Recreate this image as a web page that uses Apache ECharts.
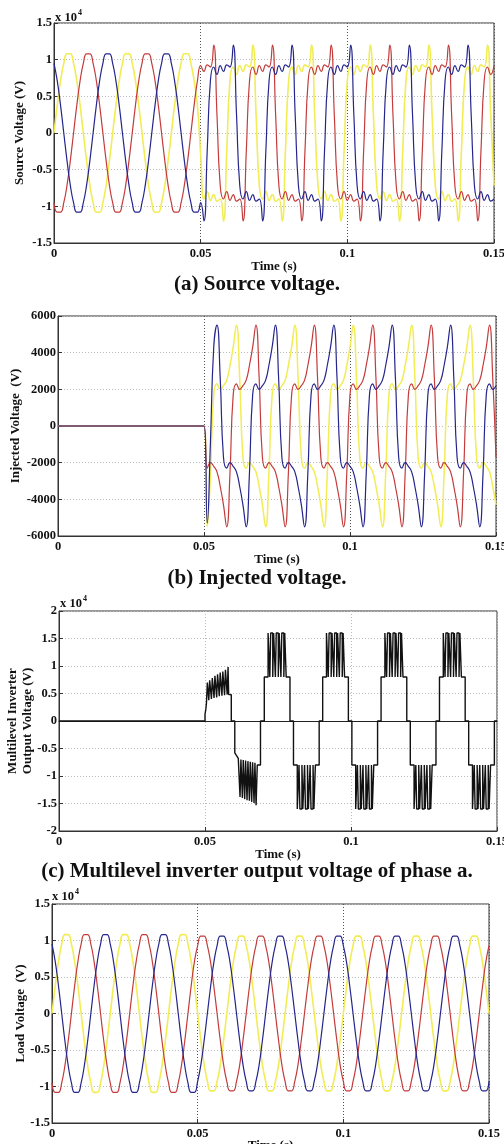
<!DOCTYPE html>
<html>
<head>
<meta charset="utf-8">
<title>DVR voltages</title>
<script src="https://cdn.jsdelivr.net/npm/echarts@6/dist/echarts.min.js"></script>
<style>
  html, body { margin: 0; padding: 0; background: #fff; }
  #main { width: 504px; height: 1144px; }
</style>
</head>
<body>
<div id="main"></div>
<script>
// sample grid: 20 electrical degrees at 50 Hz (1/900 s), 0 .. 0.15 s
var tGrid = [];
for (var i = 0; i <= 135; i++) tGrid.push(i / 900);

// (a) source voltage, x 10^4 V
var srcYellow = [
  0, 0.38, 0.71, 0.95, 1.08, 1.08, 0.95, 0.71, 0.38, 0, -0.38, -0.71, -0.95, -1.08, -1.08, -0.95, -0.71, -0.38,
  0, 0.38, 0.71, 0.95, 1.08, 1.08, 0.95, 0.71, 0.38, 0, -0.38, -0.71, -0.95, -1.08, -1.08, -0.95, -0.71, -0.38,
  0, 0.38, 0.71, 0.95, 1.08, 1.08, 0.95, 0.71, 0.38,
  -0.30, -0.90, -0.80, -0.92, -0.84, -0.93, -0.90, -1.20, -0.25,
  0.72, 0.90, 0.80, 0.92, 0.84, 0.93, 0.90, 1.20, 0.25, -0.72, -0.90, -0.80, -0.92, -0.84, -0.93, -0.90, -1.20, -0.25,
  0.72, 0.90, 0.80, 0.92, 0.84, 0.93, 0.90, 1.20, 0.25, -0.72, -0.90, -0.80, -0.92, -0.84, -0.93, -0.90, -1.20, -0.25,
  0.72, 0.90, 0.80, 0.92, 0.84, 0.93, 0.90, 1.20, 0.25, -0.72, -0.90, -0.80, -0.92, -0.84, -0.93, -0.90, -1.20, -0.25,
  0.72, 0.90, 0.80, 0.92, 0.84, 0.93, 0.90, 1.20, 0.25, -0.72, -0.90, -0.80, -0.92, -0.84, -0.93, -0.90, -1.20, -0.25,
  0.72, 0.90, 0.80, 0.92, 0.84, 0.93, 0.90, 1.20, 0.25, -0.72
];
var srcRed = [
  -0.95, -1.08, -1.08, -0.95, -0.71, -0.38,
  0, 0.38, 0.71, 0.95, 1.08, 1.08, 0.95, 0.71, 0.38, 0, -0.38, -0.71, -0.95, -1.08, -1.08, -0.95, -0.71, -0.38,
  0, 0.38, 0.71, 0.95, 1.08, 1.08, 0.95, 0.71, 0.38, 0, -0.38, -0.71, -0.95, -1.08, -1.08, -0.95, -0.71, -0.38,
  0, 0.38, 0.71,
  0.92, 0.84, 0.93, 0.90, 1.20, 0.25, -0.72, -0.90, -0.80, -0.92, -0.84, -0.93, -0.90, -1.20, -0.25,
  0.72, 0.90, 0.80, 0.92, 0.84, 0.93, 0.90, 1.20, 0.25, -0.72, -0.90, -0.80, -0.92, -0.84, -0.93, -0.90, -1.20, -0.25,
  0.72, 0.90, 0.80, 0.92, 0.84, 0.93, 0.90, 1.20, 0.25, -0.72, -0.90, -0.80, -0.92, -0.84, -0.93, -0.90, -1.20, -0.25,
  0.72, 0.90, 0.80, 0.92, 0.84, 0.93, 0.90, 1.20, 0.25, -0.72, -0.90, -0.80, -0.92, -0.84, -0.93, -0.90, -1.20, -0.25,
  0.72, 0.90, 0.80, 0.92, 0.84, 0.93, 0.90, 1.20, 0.25, -0.72, -0.90, -0.80, -0.92, -0.84, -0.93, -0.90, -1.20, -0.25,
  0.72, 0.90, 0.80, 0.92
];
var srcBlue = [
  0.95, 0.71, 0.38, 0, -0.38, -0.71, -0.95, -1.08, -1.08, -0.95, -0.71, -0.38,
  0, 0.38, 0.71, 0.95, 1.08, 1.08, 0.95, 0.71, 0.38, 0, -0.38, -0.71, -0.95, -1.08, -1.08, -0.95, -0.71, -0.38,
  0, 0.38, 0.71, 0.95, 1.08, 1.08, 0.95, 0.71, 0.38, 0, -0.38, -0.71, -0.95, -1.08, -1.08,
  -0.95, -1.20, -0.25,
  0.72, 0.90, 0.80, 0.92, 0.84, 0.93, 0.90, 1.20, 0.25, -0.72, -0.90, -0.80, -0.92, -0.84, -0.93, -0.90, -1.20, -0.25,
  0.72, 0.90, 0.80, 0.92, 0.84, 0.93, 0.90, 1.20, 0.25, -0.72, -0.90, -0.80, -0.92, -0.84, -0.93, -0.90, -1.20, -0.25,
  0.72, 0.90, 0.80, 0.92, 0.84, 0.93, 0.90, 1.20, 0.25, -0.72, -0.90, -0.80, -0.92, -0.84, -0.93, -0.90, -1.20, -0.25,
  0.72, 0.90, 0.80, 0.92, 0.84, 0.93, 0.90, 1.20, 0.25, -0.72, -0.90, -0.80, -0.92, -0.84, -0.93, -0.90, -1.20, -0.25,
  0.72, 0.90, 0.80, 0.92, 0.84, 0.93, 0.90, 1.20, 0.25, -0.72, -0.90, -0.80, -0.92, -0.84, -0.93, -0.90
];

// (b) injected voltage, V
var injYellow = [
  0, 0, 0, 0, 0, 0, 0, 0, 0,
  0, 0, 0, 0, 0, 0, 0, 0, 0,
  0, 0, 0, 0, 0, 0, 0, 0, 0,
  0, 0, 0, 0, 0, 0, 0, 0, 0,
  0, 0, 0, 0, 0, 0, 0, 0, 0,
  0, -5500, -2600, 1700, 2300, 2000, 2200, 2500, 3300,
  4300, 5500, 2600, -1700, -2300, -2000, -2200, -2500, -3300, -4300, -5500, -2600, 1700, 2300, 2000, 2200, 2500, 3300,
  4300, 5500, 2600, -1700, -2300, -2000, -2200, -2500, -3300, -4300, -5500, -2600, 1700, 2300, 2000, 2200, 2500, 3300,
  4300, 5500, 2600, -1700, -2300, -2000, -2200, -2500, -3300, -4300, -5500, -2600, 1700, 2300, 2000, 2200, 2500, 3300,
  4300, 5500, 2600, -1700, -2300, -2000, -2200, -2500, -3300, -4300, -5500, -2600, 1700, 2300, 2000, 2200, 2500, 3300,
  4300, 5500, 2600, -1700, -2300, -2000, -2200, -2500, -3300, -4300
];
var injRed = [
  0, 0, 0, 0, 0, 0, 0, 0, 0,
  0, 0, 0, 0, 0, 0, 0, 0, 0,
  0, 0, 0, 0, 0, 0, 0, 0, 0,
  0, 0, 0, 0, 0, 0, 0, 0, 0,
  0, 0, 0, 0, 0, 0, 0, 0, 0,
  0, -2300, -2000, -2200, -2500, -3300, -4300, -5500, -2600, 1700, 2300, 2000, 2200, 2500, 3300,
  4300, 5500, 2600, -1700, -2300, -2000, -2200, -2500, -3300, -4300, -5500, -2600, 1700, 2300, 2000, 2200, 2500, 3300,
  4300, 5500, 2600, -1700, -2300, -2000, -2200, -2500, -3300, -4300, -5500, -2600, 1700, 2300, 2000, 2200, 2500, 3300,
  4300, 5500, 2600, -1700, -2300, -2000, -2200, -2500, -3300, -4300, -5500, -2600, 1700, 2300, 2000, 2200, 2500, 3300,
  4300, 5500, 2600, -1700, -2300, -2000, -2200, -2500, -3300, -4300, -5500, -2600, 1700, 2300, 2000, 2200, 2500, 3300,
  4300, 5500, 2600, -1700
];
var injBlue = [
  0, 0, 0, 0, 0, 0, 0, 0, 0,
  0, 0, 0, 0, 0, 0, 0, 0, 0,
  0, 0, 0, 0, 0, 0, 0, 0, 0,
  0, 0, 0, 0, 0, 0, 0, 0, 0,
  0, 0, 0, 0, 0, 0, 0, 0, 0,
  0, -5300, -800,
  4300, 5500, 2600, -1700, -2300, -2000, -2200, -2500, -3300, -4300, -5500, -2600, 1700, 2300, 2000, 2200, 2500, 3300,
  4300, 5500, 2600, -1700, -2300, -2000, -2200, -2500, -3300, -4300, -5500, -2600, 1700, 2300, 2000, 2200, 2500, 3300,
  4300, 5500, 2600, -1700, -2300, -2000, -2200, -2500, -3300, -4300, -5500, -2600, 1700, 2300, 2000, 2200, 2500, 3300,
  4300, 5500, 2600, -1700, -2300, -2000, -2200, -2500, -3300, -4300, -5500, -2600, 1700, 2300, 2000, 2200, 2500, 3300,
  4300, 5500, 2600, -1700, -2300, -2000, -2200, -2500, -3300, -4300, -5500, -2600, 1700, 2300, 2000, 2200
];

// (c) multilevel inverter output, phase a (switching instants in s, levels x 10^4 V)
var invTime = [
  0, 0.0500, 0.0503, 0.0505,
  0.0508, 0.0513, 0.0516, 0.0522, 0.0525, 0.0531, 0.0534, 0.0540, 0.0543, 0.0549,
  0.0552, 0.0558, 0.0561, 0.0567, 0.0570, 0.0576, 0.0579, 0.0581, 0.0590,
  0.0602, 0.0608, 0.0614,
  0.0620, 0.0623, 0.0628, 0.0631, 0.0636, 0.0639, 0.0644, 0.0647, 0.0652, 0.0655,
  0.0660, 0.0663, 0.0668, 0.0671, 0.0675, 0.0679, 0.0690,
  0.0703, 0.0716, 0.0722, 0.0725, 0.0732, 0.0735, 0.0741, 0.0744, 0.0751, 0.0754, 0.0760, 0.0763, 0.0770, 0.0773, 0.0778, 0.0791,
  0.0803, 0.0816, 0.0822, 0.0825, 0.0832, 0.0835, 0.0841, 0.0844, 0.0851, 0.0854, 0.0860, 0.0863, 0.0870, 0.0873, 0.0878, 0.0891,
  0.0903, 0.0916, 0.0922, 0.0925, 0.0932, 0.0935, 0.0941, 0.0944, 0.0951, 0.0954, 0.0960, 0.0963, 0.0970, 0.0973, 0.0978, 0.0991,
  0.1003, 0.1016, 0.1022, 0.1025, 0.1032, 0.1035, 0.1041, 0.1044, 0.1051, 0.1054, 0.1060, 0.1063, 0.1070, 0.1073, 0.1078, 0.1091,
  0.1103, 0.1116, 0.1122, 0.1125, 0.1132, 0.1135, 0.1141, 0.1144, 0.1151, 0.1154, 0.1160, 0.1163, 0.1170, 0.1173, 0.1178, 0.1191,
  0.1203, 0.1216, 0.1222, 0.1225, 0.1232, 0.1235, 0.1241, 0.1244, 0.1251, 0.1254, 0.1260, 0.1263, 0.1270, 0.1273, 0.1278, 0.1291,
  0.1303, 0.1316, 0.1322, 0.1325, 0.1332, 0.1335, 0.1341, 0.1344, 0.1351, 0.1354, 0.1360, 0.1363, 0.1370, 0.1373, 0.1378, 0.1391,
  0.1403, 0.1416, 0.1422, 0.1425, 0.1432, 0.1435, 0.1441, 0.1444, 0.1451, 0.1454, 0.1460, 0.1463, 0.1470, 0.1473, 0.1478, 0.1491,
  0.1500
];
var invLevel = [
  0, 0.12, 0.22, 0.33,
  0.70, 0.38, 0.74, 0.40, 0.78, 0.42, 0.82, 0.43, 0.85, 0.45,
  0.88, 0.46, 0.90, 0.47, 0.93, 0.48, 0.98, 0.48, 0,
  -0.58, -0.63, -0.68,
  -1.38, -0.70, -1.40, -0.71, -1.42, -0.72, -1.44, -0.73, -1.45, -0.74,
  -1.47, -0.75, -1.49, -0.76, -1.53, -0.80, 0,
  0.8, 1.6, 0.8, 1.6, 0.8, 1.6, 0.8, 1.6, 0.8, 1.6, 0.8, 1.6, 0.8, 1.6, 0.8, 0,
  -0.8, -1.6, -0.8, -1.6, -0.8, -1.6, -0.8, -1.6, -0.8, -1.6, -0.8, -1.6, -0.8, -1.6, -0.8, 0,
  0.8, 1.6, 0.8, 1.6, 0.8, 1.6, 0.8, 1.6, 0.8, 1.6, 0.8, 1.6, 0.8, 1.6, 0.8, 0,
  -0.8, -1.6, -0.8, -1.6, -0.8, -1.6, -0.8, -1.6, -0.8, -1.6, -0.8, -1.6, -0.8, -1.6, -0.8, 0,
  0.8, 1.6, 0.8, 1.6, 0.8, 1.6, 0.8, 1.6, 0.8, 1.6, 0.8, 1.6, 0.8, 1.6, 0.8, 0,
  -0.8, -1.6, -0.8, -1.6, -0.8, -1.6, -0.8, -1.6, -0.8, -1.6, -0.8, -1.6, -0.8, -1.6, -0.8, 0,
  0.8, 1.6, 0.8, 1.6, 0.8, 1.6, 0.8, 1.6, 0.8, 1.6, 0.8, 1.6, 0.8, 1.6, 0.8, 0,
  -0.8, -1.6, -0.8, -1.6, -0.8, -1.6, -0.8, -1.6, -0.8, -1.6, -0.8, -1.6, -0.8, -1.6, -0.8, 0,
  0
];

// (d) load voltage, x 10^4 V
var loadYellow = [
  0, 0.38, 0.71, 0.95, 1.08, 1.08, 0.95, 0.71, 0.38, 0, -0.38, -0.71, -0.95, -1.08, -1.08, -0.95, -0.71, -0.38,
  0, 0.38, 0.71, 0.95, 1.08, 1.08, 0.95, 0.71, 0.38, 0, -0.38, -0.71, -0.95, -1.08, -1.08, -0.95, -0.71, -0.38,
  0, 0.38, 0.71, 0.95, 1.08, 1.08, 0.95, 0.71, 0.38,
  0, -0.37, -0.70, -0.93, -1.06, -1.06, -0.93, -0.70, -0.37,
  0, 0.37, 0.70, 0.93, 1.06, 1.06, 0.93, 0.70, 0.37, 0, -0.37, -0.70, -0.93, -1.06, -1.06, -0.93, -0.70, -0.37,
  0, 0.37, 0.70, 0.93, 1.06, 1.06, 0.93, 0.70, 0.37, 0, -0.37, -0.70, -0.93, -1.06, -1.06, -0.93, -0.70, -0.37,
  0, 0.37, 0.70, 0.93, 1.06, 1.06, 0.93, 0.70, 0.37, 0, -0.37, -0.70, -0.93, -1.06, -1.06, -0.93, -0.70, -0.37,
  0, 0.37, 0.70, 0.93, 1.06, 1.06, 0.93, 0.70, 0.37, 0, -0.37, -0.70, -0.93, -1.06, -1.06, -0.93, -0.70, -0.37,
  0, 0.37, 0.70, 0.93, 1.06, 1.06, 0.93, 0.70, 0.37, 0
];
var loadRed = [
  -0.95, -1.08, -1.08, -0.95, -0.71, -0.38,
  0, 0.38, 0.71, 0.95, 1.08, 1.08, 0.95, 0.71, 0.38, 0, -0.38, -0.71, -0.95, -1.08, -1.08, -0.95, -0.71, -0.38,
  0, 0.38, 0.71, 0.95, 1.08, 1.08, 0.95, 0.71, 0.38, 0, -0.38, -0.71, -0.95, -1.08, -1.08, -0.95, -0.71, -0.38,
  0, 0.38, 0.71,
  0.93, 1.06, 1.06, 0.93, 0.70, 0.37, 0, -0.37, -0.70, -0.93, -1.06, -1.06, -0.93, -0.70, -0.37,
  0, 0.37, 0.70, 0.93, 1.06, 1.06, 0.93, 0.70, 0.37, 0, -0.37, -0.70, -0.93, -1.06, -1.06, -0.93, -0.70, -0.37,
  0, 0.37, 0.70, 0.93, 1.06, 1.06, 0.93, 0.70, 0.37, 0, -0.37, -0.70, -0.93, -1.06, -1.06, -0.93, -0.70, -0.37,
  0, 0.37, 0.70, 0.93, 1.06, 1.06, 0.93, 0.70, 0.37, 0, -0.37, -0.70, -0.93, -1.06, -1.06, -0.93, -0.70, -0.37,
  0, 0.37, 0.70, 0.93, 1.06, 1.06, 0.93, 0.70, 0.37, 0, -0.37, -0.70, -0.93, -1.06, -1.06, -0.93, -0.70, -0.37,
  0, 0.37, 0.70, 0.93
];
var loadBlue = [
  0.95, 0.71, 0.38, 0, -0.38, -0.71, -0.95, -1.08, -1.08, -0.95, -0.71, -0.38,
  0, 0.38, 0.71, 0.95, 1.08, 1.08, 0.95, 0.71, 0.38, 0, -0.38, -0.71, -0.95, -1.08, -1.08, -0.95, -0.71, -0.38,
  0, 0.38, 0.71, 0.95, 1.08, 1.08, 0.95, 0.71, 0.38, 0, -0.38, -0.71, -0.95, -1.08, -1.08,
  -0.93, -0.70, -0.37,
  0, 0.37, 0.70, 0.93, 1.06, 1.06, 0.93, 0.70, 0.37, 0, -0.37, -0.70, -0.93, -1.06, -1.06, -0.93, -0.70, -0.37,
  0, 0.37, 0.70, 0.93, 1.06, 1.06, 0.93, 0.70, 0.37, 0, -0.37, -0.70, -0.93, -1.06, -1.06, -0.93, -0.70, -0.37,
  0, 0.37, 0.70, 0.93, 1.06, 1.06, 0.93, 0.70, 0.37, 0, -0.37, -0.70, -0.93, -1.06, -1.06, -0.93, -0.70, -0.37,
  0, 0.37, 0.70, 0.93, 1.06, 1.06, 0.93, 0.70, 0.37, 0, -0.37, -0.70, -0.93, -1.06, -1.06, -0.93, -0.70, -0.37,
  0, 0.37, 0.70, 0.93, 1.06, 1.06, 0.93, 0.70, 0.37, 0, -0.37, -0.70, -0.93, -1.06, -1.06, -0.93
];

var FONT = "'Liberation Serif', 'Times New Roman', serif";
var YELLOW = '#f2ec55', RED = '#c43b3b', BLUE = '#25258c';

function gridBox(left, top, width, height) {
  return { left: left, top: top, width: width, height: height, outerBoundsMode: 'none',
    containLabel: false, show: true, borderColor: '#333', borderWidth: 1 };
}
function xAx(g, gridColor, gap) {
  return {
    gridIndex: g, type: 'value', min: 0, max: 0.15, interval: 0.05,
    axisLine: { show: true, onZero: false, lineStyle: { color: '#333' } },
    axisTick: { show: true, inside: true, length: 4, lineStyle: { color: '#333' } },
    axisLabel: { color: '#111', fontFamily: FONT, fontWeight: 'bold', fontSize: 12.5, margin: 4 },
    splitLine: { show: true, lineStyle: { color: gridColor, type: [1, 2] } },
    name: 'Time (s)', nameLocation: 'middle', nameGap: gap, nameMoveOverlap: false,
    nameTextStyle: { color: '#111', fontFamily: FONT, fontWeight: 'bold', fontSize: 13 }
  };
}
function yAx(g, min, max, interval, name, gap) {
  return {
    gridIndex: g, type: 'value', min: min, max: max, interval: interval,
    axisLine: { show: true, lineStyle: { color: '#333' } },
    axisTick: { show: true, inside: true, length: 4, lineStyle: { color: '#333' } },
    axisLabel: { color: '#111', fontFamily: FONT, fontWeight: 'bold', fontSize: 12.5, margin: 2,
      formatter: function (v) { return String(v); } },
    splitLine: { show: true, lineStyle: { color: '#bbb', type: [1, 2] } },
    name: name, nameLocation: 'middle', nameGap: gap, nameMoveOverlap: false,
    nameTextStyle: { color: '#111', fontFamily: FONT, fontWeight: 'bold', fontSize: 13, lineHeight: 15 }
  };
}
function wave(g, vals, color, width) {
  return {
    type: 'line', xAxisIndex: g, yAxisIndex: g, smooth: 0.5, symbol: 'none', silent: true,
    data: vals.map(function (v, i) { return [tGrid[i], v]; }),
    lineStyle: { color: color, width: width }
  };
}
function caption(x, y, text) {
  return { type: 'text', x: x, y: y, silent: true,
    style: { text: text, fill: '#111', font: 'bold 21px ' + FONT, align: 'center', verticalAlign: 'top' } };
}
function scale(x, y) {
  return [
    { type: 'text', x: x, y: y, silent: true, style: { text: 'x 10', fill: '#111', font: 'bold 12.5px ' + FONT } },
    { type: 'text', x: x + 23, y: y - 2, silent: true, style: { text: '4', fill: '#111', font: 'bold 8px ' + FONT } }
  ];
}

var chart = echarts.init(document.getElementById('main'), null, { renderer: 'canvas' });
chart.setOption({
  animation: false,
  backgroundColor: '#fff',
  grid: [
    gridBox(54, 23, 440, 220),
    gridBox(58, 316, 438, 220),
    gridBox(59, 611, 438, 220),
    gridBox(52, 904, 437, 219)
  ],
  xAxis: [
    xAx(0, '#555', 17), xAx(1, '#555', 17), xAx(2, '#bbb', 17), xAx(3, '#555', 16),
    // solid zero level of the inverter panel
    { gridIndex: 2, type: 'value', min: 0, max: 0.15, position: 'top',
      axisLine: { show: true, onZero: true, lineStyle: { color: '#222', width: 1 } },
      axisTick: { show: false }, axisLabel: { show: false }, splitLine: { show: false } }
  ],
  yAxis: [
    yAx(0, -1.5, 1.5, 0.5, 'Source Voltage (V)', 27),
    yAx(1, -6000, 6000, 2000, 'Injected Voltage  (V)', 35),
    yAx(2, -2, 2, 0.5, 'Multilevel Inverter\nOutput Voltage (V)', 24),
    yAx(3, -1.5, 1.5, 0.5, 'Load Voltage  (V)', 24)
  ],
  graphic: [
    caption(257, 274, '(a) Source voltage.'),
    caption(257, 568, '(b) Injected voltage.'),
    caption(257, 861, '(c) Multilevel inverter output voltage of phase a.')
  ].concat(scale(55, 11), scale(60, 597), scale(52, 890)),
  series: [
    wave(0, srcYellow, YELLOW, 1.6), wave(0, srcRed, RED, 1.2), wave(0, srcBlue, BLUE, 1.2),
    wave(1, injYellow, YELLOW, 1.5), wave(1, injRed, RED, 1.2), wave(1, injBlue, BLUE, 1.2),
    {
      type: 'line', xAxisIndex: 2, yAxisIndex: 2, step: 'end', symbol: 'none', silent: true,
      data: invLevel.map(function (v, i) { return [invTime[i], v]; }),
      lineStyle: { color: '#111', width: 1.4 }
    },
    wave(3, loadYellow, YELLOW, 1.6), wave(3, loadRed, RED, 1.2), wave(3, loadBlue, BLUE, 1.2)
  ]
});
</script>
</body>
</html>
